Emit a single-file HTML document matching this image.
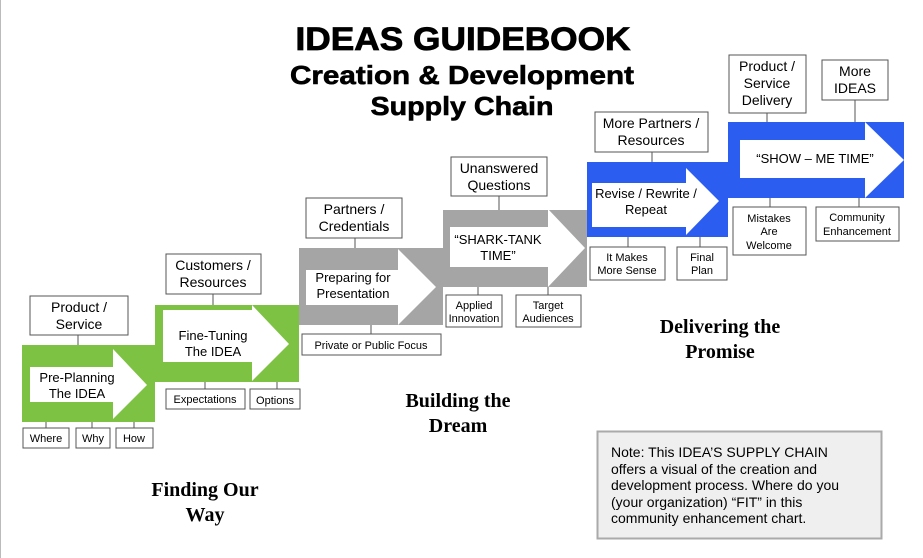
<!DOCTYPE html>
<html><head><meta charset="utf-8"><style>
html,body{margin:0;padding:0;background:#fff;}
svg{display:block;}
.b{fill:#fff;stroke:#555;stroke-width:1;}
.t{font-family:"Liberation Sans",Arial,sans-serif;fill:#000;text-anchor:middle;}
.s{font-family:"Liberation Serif",serif;font-weight:bold;fill:#000;text-anchor:middle;font-size:20px;}
.l{stroke:#555;stroke-width:1;}
</style></head><body>
<svg width="923" height="558" viewBox="0 0 923 558" xmlns="http://www.w3.org/2000/svg">
<line x1="0.5" y1="0" x2="0.5" y2="558" stroke="#bbb"/>
<!-- title -->
<g font-family="Liberation Sans,Arial,sans-serif" font-weight="900" text-anchor="middle" fill="#000">
<text x="463" y="50" font-size="32" textLength="335" lengthAdjust="spacingAndGlyphs" stroke="#000" stroke-width="0.8">IDEAS GUIDEBOOK</text>
<text x="462" y="84" font-size="26" textLength="344" lengthAdjust="spacingAndGlyphs" stroke="#000" stroke-width="0.6">Creation &amp; Development</text>
<text x="462" y="115" font-size="26" textLength="183" lengthAdjust="spacingAndGlyphs" stroke="#000" stroke-width="0.6">Supply Chain</text>
</g>
<!-- connectors -->
<g class="l">
<line x1="78" y1="335" x2="78" y2="345"/><line x1="46" y1="422" x2="46" y2="428"/><line x1="92" y1="422" x2="92" y2="428"/><line x1="134" y1="422" x2="134" y2="428"/>
<line x1="213" y1="294" x2="213" y2="305"/><line x1="205" y1="382" x2="205" y2="389"/><line x1="277" y1="382" x2="277" y2="389"/>
<line x1="355" y1="238" x2="355" y2="248"/><line x1="371" y1="325" x2="371" y2="334"/>
<line x1="499" y1="196" x2="499" y2="210"/><line x1="478" y1="287" x2="478" y2="295"/><line x1="548" y1="287" x2="548" y2="295"/>
<line x1="652" y1="152" x2="652" y2="162"/><line x1="628" y1="237" x2="628" y2="247"/><line x1="700" y1="237" x2="700" y2="247"/>
<line x1="767" y1="113" x2="767" y2="122"/><line x1="855" y1="100" x2="855" y2="122"/><line x1="770" y1="198" x2="770" y2="207"/><line x1="859" y1="198" x2="859" y2="207"/>
</g>
<!-- green -->
<rect x="22" y="345" width="133" height="77" fill="#7dc243"/>
<polygon points="30,367 113,367 113,349 147,385 113,419 113,402 30,402" fill="#fff"/>
<rect x="155" y="305" width="144" height="77" fill="#7dc243"/>
<polygon points="163,310 252,310 252,305 289,344 252,381 252,362 163,362" fill="#fff"/>
<!-- gray -->
<rect x="299" y="248" width="144" height="77" fill="#a5a5a5"/>
<polygon points="306,270 398,270 398,249 436,287 398,325 398,305 306,305" fill="#fff"/>
<rect x="443" y="210" width="144" height="77" fill="#a5a5a5"/>
<polygon points="450,227 548,227 548,209 585,248 548,287 548,267 450,267" fill="#fff"/>
<!-- blue -->
<rect x="587" y="162" width="141" height="75" fill="#2b5ef0"/>
<polygon points="592,183 686,183 686,168 719,201 686,235 686,227 592,227" fill="#fff"/>
<rect x="728" y="122" width="176" height="76" fill="#2b5ef0"/>
<polygon points="740,140 865,140 865,122 904,160 865,198 865,178 740,178" fill="#fff"/>
<!-- arrow text -->
<g class="t" font-size="13">
<text x="77" y="382">Pre-Planning</text><text x="77" y="398">The IDEA</text>
<text x="213" y="340">Fine-Tuning</text><text x="213" y="356">The IDEA</text>
<text x="353" y="282">Preparing for</text><text x="353" y="298">Presentation</text>
<text x="498" y="244">“SHARK-TANK</text><text x="498" y="260">TIME”</text>
<text x="646" y="198">Revise  / Rewrite /</text><text x="646" y="214">Repeat</text>
<text x="815" y="163">“SHOW – ME TIME”</text>
</g>
<!-- top boxes -->
<rect class="b" x="30" y="296" width="98" height="39"/>
<rect class="b" x="166" y="254" width="95" height="40"/>
<rect class="b" x="306" y="198" width="96" height="40"/>
<rect class="b" x="451" y="157" width="96" height="39"/>
<rect class="b" x="595" y="112" width="113" height="40"/>
<rect class="b" x="729" y="55" width="77" height="58"/>
<rect class="b" x="822" y="60" width="66" height="40"/>
<g class="t" font-size="14">
<text x="79" y="312">Product /</text><text x="79" y="329">Service</text>
<text x="213" y="270">Customers /</text><text x="213" y="287">Resources</text>
<text x="354" y="214">Partners /</text><text x="354" y="231">Credentials</text>
<text x="499" y="173">Unanswered</text><text x="499" y="190">Questions</text>
<text x="651" y="128">More Partners /</text><text x="651" y="145">Resources</text>
<text x="767" y="71">Product /</text><text x="767" y="88">Service</text><text x="767" y="105">Delivery</text>
<text x="855" y="76">More</text><text x="855" y="93">IDEAS</text>
</g>
<!-- bottom boxes -->
<rect class="b" x="23" y="428" width="46" height="20"/>
<rect class="b" x="76" y="428" width="34" height="20"/>
<rect class="b" x="116" y="428" width="37" height="20"/>
<rect class="b" x="166" y="389" width="79" height="20"/>
<rect class="b" x="250" y="389" width="50" height="20"/>
<rect class="b" x="302" y="334" width="139" height="21"/>
<rect class="b" x="446" y="295" width="56" height="32"/>
<rect class="b" x="516" y="295" width="65" height="32"/>
<rect class="b" x="590" y="247" width="75" height="33"/>
<rect class="b" x="677" y="247" width="50" height="33"/>
<rect class="b" x="733" y="207" width="73" height="48"/>
<rect class="b" x="816" y="207" width="83" height="34"/>
<g class="t" font-size="11">
<text x="46" y="442">Where</text><text x="93" y="442">Why</text><text x="134" y="442">How</text>
<text x="205" y="403">Expectations</text><text x="275" y="404">Options</text>
<text x="371" y="349">Private or Public Focus</text>
<text x="474" y="309">Applied</text><text x="474" y="322">Innovation</text>
<text x="548" y="309">Target</text><text x="548" y="322">Audiences</text>
<text x="627" y="261">It Makes</text><text x="627" y="274">More Sense</text>
<text x="702" y="261">Final</text><text x="702" y="274">Plan</text>
<text x="769" y="222">Mistakes</text><text x="769" y="235">Are</text><text x="769" y="249">Welcome</text>
<text x="857" y="221">Community</text><text x="857" y="235">Enhancement</text>
</g>
<!-- section labels -->
<text class="s" x="205" y="496">Finding Our</text><text class="s" x="205" y="521">Way</text>
<text class="s" x="458" y="407">Building the</text><text class="s" x="458" y="432">Dream</text>
<text class="s" x="720" y="333">Delivering the</text><text class="s" x="720" y="358">Promise</text>
<!-- note -->
<rect x="597.5" y="431.5" width="284" height="107" fill="#efefef" stroke="#aaa" stroke-width="2"/>
<g font-family="Liberation Sans,Arial,sans-serif" font-size="14" fill="#000">
<text x="611" y="457">Note: This IDEA’S SUPPLY CHAIN</text>
<text x="611" y="474">offers a visual of the creation and</text>
<text x="611" y="490">development process.  Where do you</text>
<text x="611" y="507">(your organization) “FIT” in this</text>
<text x="611" y="523">community enhancement chart.</text>
</g>
</svg>
</body></html>
